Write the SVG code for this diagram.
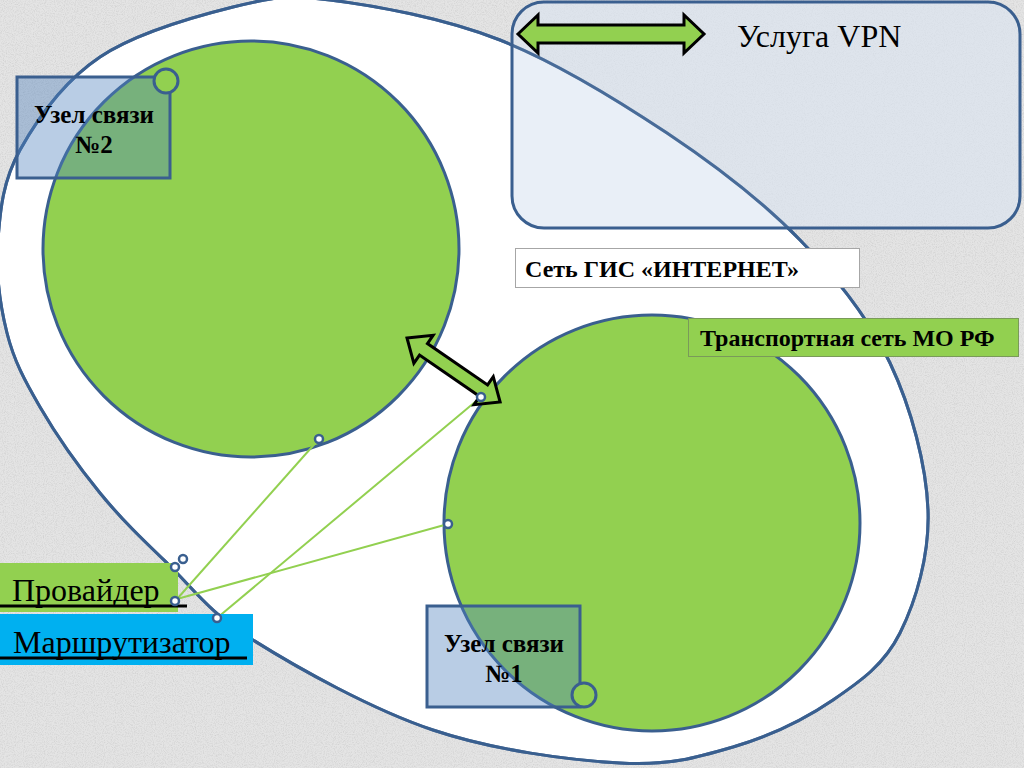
<svg xmlns="http://www.w3.org/2000/svg" width="1024" height="768" viewBox="0 0 1024 768">
<defs>
<filter id="noise" x="0" y="0" width="100%" height="100%">
<feTurbulence type="fractalNoise" baseFrequency="0.9" numOctaves="3" seed="4"/>
<feColorMatrix type="matrix" values="0 0 0 0 0.62  0 0 0 0 0.62  0 0 0 0 0.62  1.8 0 0 0 -0.75"/>
</filter>
<path id="blobpath" d="M-2,240 C0.2,209.5 3,180.5 20,150 C37,119.5 64.5,80.8 100,57 C135.5,33.2 194.7,16.5 233,7 C271.3,-2.5 285.5,-5.5 330,0 C374.5,5.5 443.8,17.8 500,40 C556.2,62.2 617,99.7 667,133 C717,166.3 762.8,201.7 800,240 C837.2,278.3 868.7,318 890,363 C911.3,408 926.3,465 928,510 C929.7,555 915.8,601.3 900,633 C884.2,664.7 860.8,681 833,700 C805.2,719 768.5,736.5 733,747 C697.5,757.5 670,765.8 620,763 C570,760.2 494.2,750.5 433,730 C371.8,709.5 297.3,667.8 253,640 C208.7,612.2 192.5,587.5 167,563 C141.5,538.5 121.2,519 100,493 C78.8,467 55.5,433.7 40,407 C24.5,380.3 14,360.8 7,333 C0,305.2 -4.2,270.5 -2,240 Z"/>
<style>
.outline{stroke:#3a5f8f;stroke-width:3}
.green{fill:#92d050}
.node{fill:#4f81bd;fill-opacity:0.4;stroke:#3a5f8f;stroke-width:3}
.port{fill:#ffffff;stroke:#3a5f8f;stroke-width:2.5}
.link{stroke:#92d050;stroke-width:2;fill:none}
.arrow{fill:#92d050;stroke:#000000;stroke-width:3;stroke-linejoin:miter}
text{font-family:"Times New Roman",Tinos,"Liberation Serif","Nimbus Roman","Noto Serif","DejaVu Serif",serif;fill:#000}
.b{font-weight:bold}
</style>
</defs>
<rect x="0" y="0" width="1024" height="768" fill="#e4e4e4"/>
<rect x="0" y="0" width="1024" height="768" filter="url(#noise)"/>

<g id="internet-blob">
<use href="#blobpath" class="outline" fill="#ffffff"/>
</g>

<g id="vpn-service">
<rect x="512" y="2" width="508" height="226" rx="32" ry="32" fill="#dbe5f1" fill-opacity="0.6" class="outline"/>
<use href="#blobpath" fill="none" stroke="#3a5f8f" stroke-width="3" stroke-opacity="0.85"/>
<path class="arrow" d="M518,34 L538,15 L538,25 L684,25 L684,15 L704,34 L684,53 L684,43 L538,43 L538,53 Z"/>
<text x="737" y="47" font-size="32">Услуга VPN</text>
</g>

<g id="circle-node2">
<circle cx="251" cy="249" r="208" class="green outline"/>
</g>
<g id="circle-node1">
<circle cx="652" cy="523" r="208" class="green outline"/>
</g>

<g id="label-internet">
<rect x="515.5" y="248.5" width="344" height="39" fill="#ffffff" stroke="#a6a6a6" stroke-width="1"/>
<text class="b" x="525" y="277" font-size="24">Сеть ГИС «ИНТЕРНЕТ»</text>
</g>

<g id="label-transport">
<rect x="688.5" y="318.5" width="330" height="38" fill="#92d050" stroke="#7a9a5a" stroke-width="1"/>
<text class="b" x="700" y="346" font-size="24">Транспортная сеть МО РФ</text>
</g>

<g id="connectors">
<line class="link" x1="177" y1="599" x2="319" y2="439"/>
<line class="link" x1="177" y1="599" x2="448" y2="524"/>
<line class="link" x1="217" y1="618" x2="481" y2="397"/>
<path class="arrow" transform="translate(407,338) rotate(34.5)" d="M0,0 L20,-17 L20,-7 L93,-7 L93,-17 L113,0 L93,17 L93,7 L20,7 L20,17 Z"/>
</g>

<g id="provider">
<rect x="0" y="563" width="178" height="49" fill="#92d050"/>
<text x="12" y="601" font-size="32">Провайдер</text>
<line x1="0" y1="606" x2="187" y2="606" stroke="#000" stroke-width="3"/>
</g>

<g id="router">
<rect x="0" y="614" width="253" height="51" fill="#00b0f0"/>
<text x="13" y="653" font-size="32">Маршрутизатор</text>
<line x1="0" y1="658" x2="247" y2="658" stroke="#000" stroke-width="3"/>
</g>

<g id="node2">
<rect x="17" y="77" width="153" height="101" class="node"/>
<circle cx="166" cy="81" r="12" class="green outline"/>
<text class="b" x="94" y="123" font-size="25" text-anchor="middle">Узел связи</text>
<text class="b" x="94" y="153" font-size="25" text-anchor="middle">№2</text>
</g>

<g id="node1">
<rect x="427" y="606" width="153" height="101" class="node"/>
<circle cx="584" cy="695" r="12" class="green outline"/>
<text class="b" x="504" y="652" font-size="25" text-anchor="middle">Узел связи</text>
<text class="b" x="504" y="682" font-size="25" text-anchor="middle">№1</text>
</g>

<g id="ports">
<circle class="port" cx="319" cy="439" r="4"/>
<circle class="port" cx="481" cy="397" r="4"/>
<circle class="port" cx="448" cy="524" r="4"/>
<circle class="port" cx="175" cy="567" r="4"/>
<circle class="port" cx="183" cy="559" r="4"/>
<circle class="port" cx="175" cy="601" r="4"/>
<circle class="port" cx="217" cy="618" r="4"/>
</g>
</svg>
